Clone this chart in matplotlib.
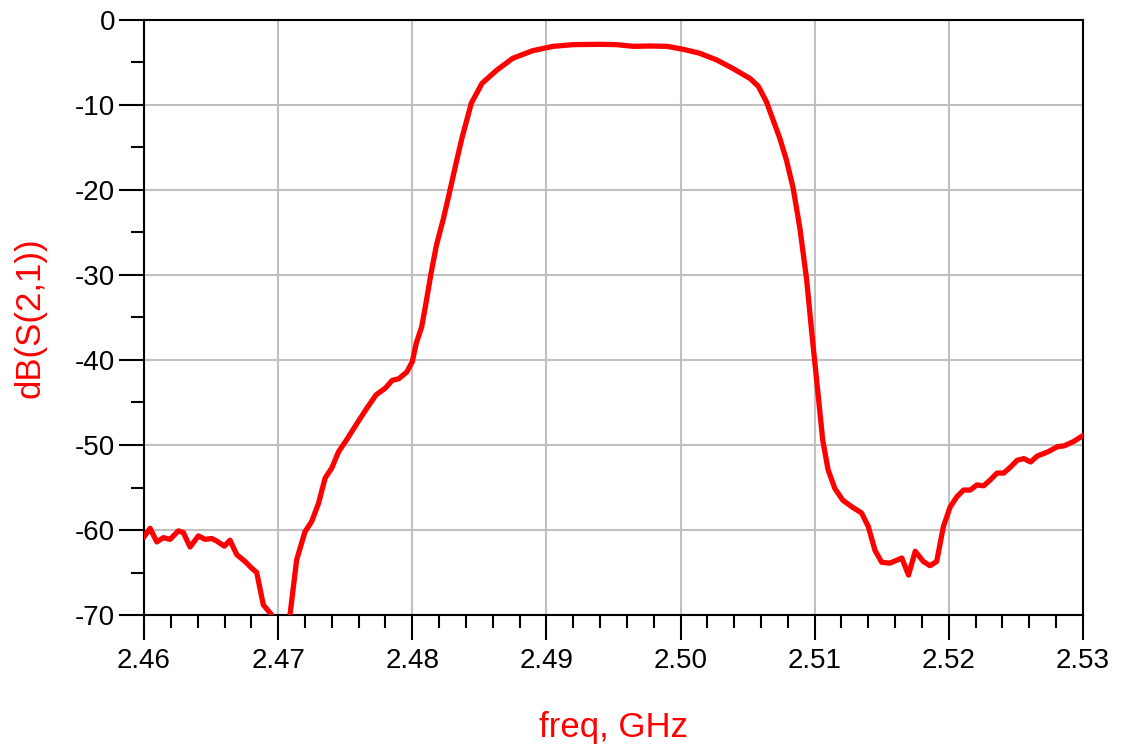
import matplotlib.pyplot as plt
import numpy as np

plt.rcParams['font.family'] = ['Liberation Sans', 'DejaVu Sans']
plt.rcParams['axes.unicode_minus'] = False

# frequency (GHz) and dB(S(2,1))
freq = [2.4600, 2.46045, 2.46095, 2.46144, 2.46194, 2.46256, 2.46293, 2.46343,
        2.46405, 2.46455, 2.46505, 2.46542, 2.46599, 2.46641, 2.46691, 2.46753,
        2.46803, 2.4684, 2.46889, 2.46952, 2.4700, 2.4705, 2.47088, 2.47138,
        2.4720, 2.4725, 2.4730, 2.4735, 2.4740, 2.4745, 2.4751, 2.4759,
        2.4766, 2.4773, 2.4780, 2.4785, 2.4790, 2.4796, 2.4800, 2.4803,
        2.4807, 2.4810, 2.4814, 2.4818, 2.4823, 2.4827, 2.4832, 2.4837,
        2.4844, 2.4852, 2.4863, 2.4875, 2.4890, 2.4905, 2.4920, 2.4940,
        2.4952, 2.4965, 2.4977, 2.4990, 2.5002, 2.5014, 2.5027, 2.5039,
        2.5052, 2.5058, 2.5064, 2.5074, 2.5079, 2.5084, 2.5089, 2.5094,
        2.5098, 2.5103, 2.5106, 2.5110, 2.5115, 2.5121, 2.5128, 2.5135,
        2.5140, 2.5145, 2.5150, 2.5156, 2.5165, 2.5170, 2.5175, 2.5181,
        2.5186, 2.5191, 2.5196, 2.5201, 2.5206, 2.5211, 2.5216, 2.5221,
        2.5226, 2.5231, 2.5236, 2.5241, 2.5246, 2.5251, 2.5256, 2.5261,
        2.5266, 2.5274, 2.5281, 2.5286, 2.5293, 2.5300]
s21 = [-60.8, -59.8, -61.4, -60.9, -61.1, -60.1, -60.3, -62.0,
       -60.7, -61.1, -61.0, -61.3, -61.9, -61.2, -62.9, -63.7,
       -64.5, -65.0, -68.8, -70.0, -74.0, -74.5, -70.0, -63.5,
       -60.2, -59.0, -56.9, -53.9, -52.7, -50.8, -49.4, -47.4,
       -45.7, -44.1, -43.3, -42.4, -42.2, -41.4, -40.2, -38.0,
       -36.1, -33.5, -29.8, -26.5, -23.5, -20.8, -17.3, -13.9,
       -9.8, -7.45, -5.9, -4.5, -3.6, -3.1, -2.9, -2.86,
       -2.9, -3.1, -3.06, -3.1, -3.45, -3.9, -4.7, -5.7,
       -6.9, -7.8, -9.6, -13.9, -16.5, -19.8, -24.5, -30.5,
       -37.0, -44.7, -49.4, -52.9, -55.1, -56.5, -57.3, -58.0,
       -59.6, -62.4, -63.8, -63.9, -63.3, -65.3, -62.5, -63.7,
       -64.2, -63.7, -59.6, -57.3, -56.1, -55.3, -55.3, -54.7,
       -54.8, -54.1, -53.3, -53.3, -52.6, -51.8, -51.6, -52.0,
       -51.3, -50.8, -50.2, -50.1, -49.6, -48.9]

fig = plt.figure(figsize=(11.21, 7.46), dpi=100)
ax = fig.add_axes([0.1285, 0.1756, 0.966 - 0.1285, 0.9732 - 0.1756])

ax.plot(freq, s21, color='#ff0000', linewidth=3.8, solid_joinstyle='round', zorder=3)

ax.set_xlim(2.46, 2.53)
ax.set_ylim(-70, 0)
ax.set_xticks(np.arange(2.46, 2.5301, 0.01))
ax.set_xticklabels(['2.46', '2.47', '2.48', '2.49', '2.50', '2.51', '2.52', '2.53'])
ax.set_xticks(np.arange(2.46, 2.5301, 0.002), minor=True)
ax.set_yticks(np.arange(-70, 1, 10))
ax.set_yticks(np.arange(-70, 1, 5), minor=True)

ax.grid(True, which='major', color='#c0c0c0', linewidth=1.5)
ax.set_axisbelow(True)
for s in ax.spines.values():
    s.set_linewidth(1.5)
    s.set_color('black')

ax.tick_params(axis='both', which='major', length=18, width=1.5, labelsize=20)
ax.tick_params(axis='both', which='minor', length=9.4, width=1.5)
ax.tick_params(axis='y', which='major', pad=3)
ax.tick_params(axis='x', which='major', pad=6)

ax.set_xlabel('freq, GHz', color='#ff0000', fontsize=25)
ax.xaxis.set_label_coords(0.5, -0.2045)
ax.xaxis.label.set_verticalalignment('baseline')
ax.set_ylabel('dB(S(2,1))', color='#ff0000', fontsize=25)
ax.yaxis.set_label_coords(-0.1214, 0.5)
ax.yaxis.label.set_verticalalignment('center')

fig.savefig('out.png', dpi=100)
